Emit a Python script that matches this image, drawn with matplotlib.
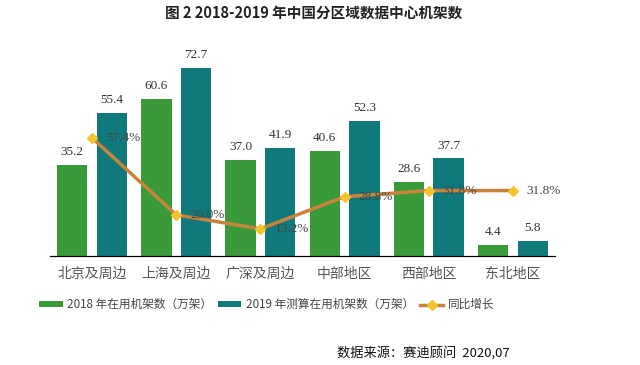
import matplotlib.pyplot as plt
import numpy as np

plt.rcParams['font.family'] = ['Noto Sans CJK SC', 'DejaVu Sans']

# data
regions = ['北京及周边', '上海及周边', '广深及周边', '中部地区', '西部地区', '东北地区']
racks_2018 = [35.2, 60.6, 37.0, 40.6, 28.6, 4.4]
racks_2019 = [55.4, 72.7, 41.9, 52.3, 37.7, 5.8]
growth = [57.4, 20.0, 13.2, 28.8, 31.8, 31.8]

green = '#3a9a3a'
teal = '#10797c'
line_col = '#c8843c'
marker_col = '#f3c52c'

fig = plt.figure(figsize=(6.4, 3.65), dpi=100)
ax = fig.add_axes([50 / 640, 109 / 365, 505 / 640, 216 / 365])
ax2 = ax.twinx()

x = np.arange(len(regions))
w = 0.36
b1 = ax.bar(x - 0.235, racks_2018, w, color=green, label='2018 年在用机架数（万架）')
b2 = ax.bar(x + 0.235, racks_2019, w, color=teal, label='2019 年测算在用机架数（万架）')

for bars in (b1, b2):
    for r in bars:
        ax.annotate(f'{r.get_height():.1f}', (r.get_x() + r.get_width() / 2, r.get_height()),
                    xytext=(0, 5), textcoords='offset points', ha='center', va='bottom',
                    fontsize=9.5, family='Liberation Serif', color='#333333')

ln, = ax2.plot(x, growth, color=line_col, lw=2.5, marker='D', ms=5.5,
               mfc=marker_col, mec=marker_col, label='同比增长')
for xi, g in zip(x, growth):
    ax2.annotate(f'{g:.1f}%', (xi, g), xytext=(10, 0), textcoords='offset points',
                 ha='left', va='center', fontsize=9.5, family='Liberation Serif', color='#444444')

ax.set_xlim(-0.5, 5.5)
ax.set_ylim(0, 83.5)
ax2.set_ylim(0, 105)
for a in (ax, ax2):
    for s in ('left', 'right', 'top'):
        a.spines[s].set_visible(False)
    a.set_yticks([])
ax.spines['bottom'].set_color('#333333')
ax.set_xticks(x)
ax.set_xticklabels(regions, fontsize=10, color='#555555')
ax.tick_params(axis='x', length=0, pad=8)

fig.text(0.49, 0.965, '图 2 2018-2019 年中国分区域数据中心机架数', ha='center', va='center',
         fontsize=10.5, fontweight='bold', color='#222222')

fig.legend(handles=[b1, b2, ln], loc='center left', bbox_to_anchor=(0.045, 0.165), ncol=3,
           frameon=False, fontsize=8.4, handlelength=2.0, handleheight=0.45, handletextpad=0.4,
           columnspacing=0.5, labelcolor='#444444')

fig.text(0.797, 0.035, '数据来源：赛迪顾问  2020,07', ha='right', va='center', fontsize=9.5, color='#111111')

fig.savefig('out.png', dpi=100)
